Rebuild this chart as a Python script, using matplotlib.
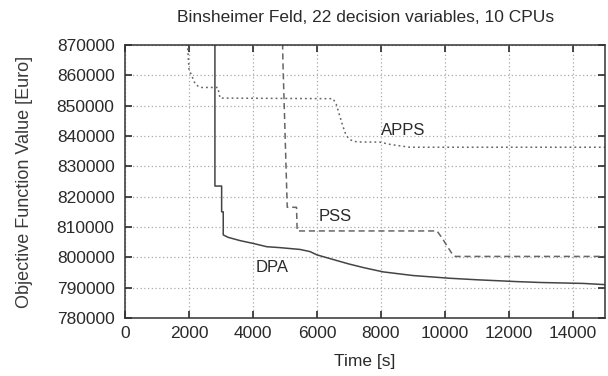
import matplotlib
matplotlib.use("Agg")
import matplotlib.pyplot as plt

plt.rcParams['font.family'] = ['Liberation Sans', 'DejaVu Sans']

title = "Binsheimer Feld, 22 decision variables, 10 CPUs"
xlabel = "Time [s]"
ylabel = "Objective Function Value [Euro]"

apps_t = [1950, 2000, 2100, 2200, 2350, 2900, 2970, 6500, 6600, 6700, 6800, 6900,
          7000, 7150, 7400, 7950, 8300, 8900, 15000]
apps_v = [870500, 862000, 859500, 857000, 856000, 856000, 852500, 852300, 850500,
          847000, 843500, 840500, 839000, 838200, 838000, 838000, 837200, 836300, 836300]

pss_t = [4925, 4935, 5070, 5360, 5380, 9750, 9900, 10050, 10200, 10320, 15000]
pss_v = [870500, 864500, 816500, 816500, 808700, 808700, 806500, 804000, 801500,
         800300, 800300]

dpa_t = [2810, 2810, 3020, 3020, 3070, 3070, 3220, 3600, 4000, 4430, 4840, 5470,
         5780, 6000, 6500, 7000, 7500, 8070, 9000, 10150, 11000, 12240, 13000,
         14320, 15000]
dpa_v = [875000, 823500, 823500, 815000, 815000, 807400, 806600, 805500, 804600,
         803500, 803200, 802600, 801900, 800800, 799300, 797800, 796500, 795200,
         794000, 793100, 792600, 792000, 791700, 791400, 791000]

labels = ["APPS", "PSS", "DPA"]
label_pos = [(8690, 841650), (6560, 813300), (4590, 796800)]

xticks = list(range(0, 15000, 2000))
yticks = list(range(780000, 870001, 10000))

fig = plt.figure(figsize=(6.08, 3.76), dpi=100)
ax = fig.add_axes([125/608, 1-318/376, (605-125)/608, (318-45)/376])

ax.plot(dpa_t, dpa_v, color='#444444', lw=1.1, ls='-')
ax.plot(pss_t, pss_v, color='#666666', lw=1.1, ls=(0, (4, 2.5)))
ax.plot(apps_t, apps_v, color='#666666', lw=1.1, ls=(0, (1.2, 2)))

for lab, (x, y) in zip(labels, label_pos):
    ax.text(x, y, lab, ha='center', va='center', fontsize=12, color='#2a2a2a')

ax.set_xlim(0, 15000)
ax.set_ylim(780000, 870000)
ax.set_xticks(xticks)
ax.set_yticks(yticks)
ax.set_xticklabels([str(v) for v in xticks])
ax.set_yticklabels([str(v) for v in yticks])
ax.tick_params(direction='in', length=5, width=1.2, top=True, right=True,
               labelsize=12.5, colors='#2a2a2a')
ax.tick_params(axis='y', pad=7.5)
ax.tick_params(axis='x', pad=6)
ax.grid(True, color='#aaaaaa', ls=(0, (1, 2)), lw=0.9)
for s in ax.spines.values():
    s.set_color('#333333')
    s.set_linewidth(1.1)

ax.set_xlabel(xlabel, fontsize=12.5, color='#2a2a2a', labelpad=9)
ax.set_ylabel(ylabel, fontsize=13, color='#3a3a3a', labelpad=17)
fig.text(366/608, 1-17/376, title, ha='center', va='center', fontsize=12.5, color='#2a2a2a')

fig.savefig("out.png", dpi=100)
